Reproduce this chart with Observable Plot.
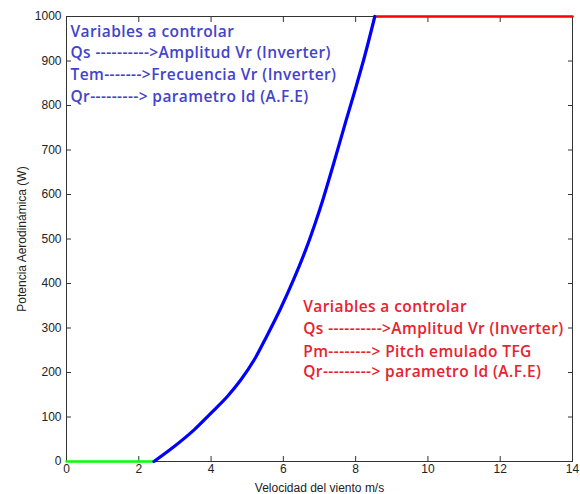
<!DOCTYPE html>
<html>
<head>
<meta charset="utf-8">
<script src="https://cdn.jsdelivr.net/npm/d3@7"></script>
<script src="https://cdn.jsdelivr.net/npm/@observablehq/plot@0.6"></script>
<style>
  html, body { margin: 0; padding: 0; background: #fff; }
  #chart svg { display: block; }
</style>
</head>
<body>
<div id="chart"></div>
<script>
// Curve data
const windSpeed = [2.42, 2.97, 3.53, 3.99, 4.45, 4.82, 5.19, 5.53, 5.93, 6.30, 6.62, 6.90, 7.10, 7.40, 7.73, 8.01, 8.26, 8.53];
const power     = [0,    33,   71,   108,  146,  183,  228,  280,  345,  412,  476,  540,  590,  672,  765,  842,  914,  1000];
const greenV = [0, 2.42];
const greenP = [0, 0];
const redV = [8.53, 14];
const redP = [1000, 1000];

const xTicks = [0, 2, 4, 6, 8, 10, 12, 14];
const yTicks = [0, 100, 200, 300, 400, 500, 600, 700, 800, 900, 1000];

// Annotations
const blueLines = [
  "Variables a controlar",
  "Qs ---------->Amplitud Vr (Inverter)",
  "Tem------->Frecuencia Vr (Inverter)",
  "Qr---------> parametro Id (A.F.E)"
];
const blueX = [0.11, 0.11, 0.11, 0.11];
const blueY = [966, 917, 868, 818];
const redLines = [
  "Variables a controlar",
  "Qs ---------->Amplitud Vr (Inverter)",
  "Pm--------> Pitch emulado TFG",
  "Qr---------> parametro Id (A.F.E)"
];
const redX = [6.55, 6.55, 6.55, 6.55];
const redY = [347, 297, 246, 200];

const curve = windSpeed.map((v, i) => ({v, p: power[i]}));
const green = greenV.map((v, i) => ({v, p: greenP[i]}));
const red = redV.map((v, i) => ({v, p: redP[i]}));
const blueText = blueLines.map((t, i) => ({t, x: blueX[i], y: blueY[i]}));
const redText = redLines.map((t, i) => ({t, x: redX[i], y: redY[i]}));

const axisColor = "#333";
const noFmt = () => "";
const chart = Plot.plot({
  width: 580,
  height: 494,
  marginLeft: 66,
  marginRight: 8,
  marginTop: 16,
  marginBottom: 33,
  style: {fontFamily: "Liberation Sans, Arial, sans-serif", fontSize: "12px", color: "#222", background: "#fff"},
  x: {domain: [0, 14]},
  y: {domain: [0, 1000]},
  marks: [
    Plot.frame({stroke: axisColor}),
    Plot.axisX({ticks: xTicks, tickFormat: d => String(d), tickSize: -5, tickPadding: 8, label: "Velocidad del viento m/s", labelAnchor: "center", labelOffset: 30, labelArrow: "none", stroke: axisColor}),
    Plot.axisX({anchor: "top", ticks: xTicks, tickSize: -5, tickFormat: noFmt, label: null, stroke: axisColor}),
    Plot.axisY({ticks: yTicks, tickFormat: d => String(d), tickSize: -5, tickPadding: 10, label: "Potencia Aerodinámica (W)", labelAnchor: "center", labelOffset: 49, labelArrow: "none", stroke: axisColor}),
    Plot.axisY({anchor: "right", ticks: yTicks, tickSize: -5, tickFormat: noFmt, label: null, stroke: axisColor}),
    Plot.line(green, {x: "v", y: "p", stroke: "#00ff00", strokeWidth: 2.5}),
    Plot.line(red, {x: "v", y: "p", stroke: "#ff0000", strokeWidth: 2.5}),
    Plot.line(curve, {x: "v", y: "p", stroke: "#0000ff", strokeWidth: 3.2, curve: "catmull-rom"}),
    Plot.text(blueText, {x: "x", y: "y", text: "t", textAnchor: "start", fill: "#4343cc", fontSize: 15.5, fontWeight: 600, fontFamily: "Open Sans, sans-serif"}),
    Plot.text(redText, {x: "x", y: "y", text: "t", textAnchor: "start", fill: "#e8222e", fontSize: 15.5, fontWeight: 600, fontFamily: "Open Sans, sans-serif"})
  ]
});
chart.querySelectorAll('g[aria-label="text"]').forEach(g => g.setAttribute("letter-spacing", "0.4"));
document.getElementById("chart").appendChild(chart);
</script>
</body>
</html>
